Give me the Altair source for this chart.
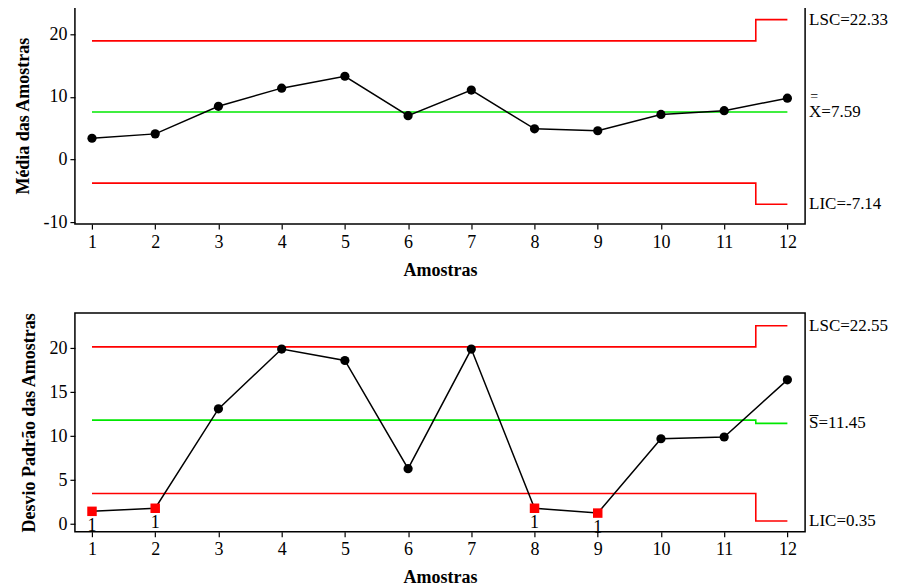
import altair as alt
import pandas as pd

samples = [1, 2, 3, 4, 5, 6, 7, 8, 9, 10, 11, 12]

# X-bar chart
xbar = [3.4, 4.1, 8.5, 11.4, 13.3, 7.0, 11.1, 4.9, 4.6, 7.2, 7.8, 9.8]
xbar_lsc = [18.94, 18.94, 18.94, 18.94, 18.94, 18.94, 18.94, 18.94, 18.94, 18.94, 18.94, 22.33]
xbar_lc = [7.59, 7.59, 7.59, 7.59, 7.59, 7.59, 7.59, 7.59, 7.59, 7.59, 7.59, 7.59]
xbar_lic = [-3.76, -3.76, -3.76, -3.76, -3.76, -3.76, -3.76, -3.76, -3.76, -3.76, -3.76, -7.14]
xbar_flag = [0, 0, 0, 0, 0, 0, 0, 0, 0, 0, 0, 0]

# S chart
sdev = [1.45, 1.8, 13.1, 19.9, 18.6, 6.3, 19.9, 1.8, 1.25, 9.7, 9.9, 16.4]
s_lsc = [20.15, 20.15, 20.15, 20.15, 20.15, 20.15, 20.15, 20.15, 20.15, 20.15, 20.15, 22.55]
s_lc = [11.82, 11.82, 11.82, 11.82, 11.82, 11.82, 11.82, 11.82, 11.82, 11.82, 11.82, 11.45]
s_lic = [3.47, 3.47, 3.47, 3.47, 3.47, 3.47, 3.47, 3.47, 3.47, 3.47, 3.47, 0.35]
s_flag = [1, 1, 0, 0, 0, 0, 0, 1, 1, 0, 0, 0]

xbar_labels = ["LSC=22.33", "X=7.59", "LIC=-7.14"]
s_labels = ["LSC=22.55", "S=11.45", "LIC=0.35"]

W = 731
RED = "#ff0000"
GREEN = "#00e800"


def panel(values, lsc, lc, lic, flags, labels, bar_char, bar_size, bar_dy,
          ydomain, yticks, ytitle, height):
    pts = pd.DataFrame({"amostra": samples, "v": values, "flag": flags})
    lim = pd.concat([
        pd.DataFrame({"amostra": samples, "v": lsc, "serie": "lsc"}),
        pd.DataFrame({"amostra": samples, "v": lc, "serie": "lc"}),
        pd.DataFrame({"amostra": samples, "v": lic, "serie": "lic"}),
    ])
    lab = pd.DataFrame({"v": [lsc[-1], lc[-1], lic[-1]], "txt": labels})
    bar = pd.DataFrame({"v": [lc[-1]], "txt": [bar_char]})

    x = alt.X("amostra:Q",
              scale=alt.Scale(domain=[0.73, 12.28], nice=False, zero=False),
              axis=alt.Axis(values=samples, title="Amostras", labelExpr="'' + datum.value",
                            labelPadding=4, titlePadding=10))
    y = alt.Y("v:Q",
              scale=alt.Scale(domain=ydomain, nice=False, zero=False),
              axis=alt.Axis(values=yticks, title=ytitle, titlePadding=10, labelPadding=3,
                            labelExpr="'' + datum.value"))

    limits = alt.Chart(lim).mark_line(interpolate="step", strokeWidth=1.6).encode(
        x=x, y=y,
        color=alt.Color("serie:N", scale=alt.Scale(domain=["lsc", "lc", "lic"],
                                                   range=[RED, GREEN, RED]), legend=None),
    )
    line = alt.Chart(pts).mark_line(color="black", strokeWidth=1.5).encode(x=x, y=y)
    dots = alt.Chart(pts).transform_filter("datum.flag == 0").mark_circle(
        color="black", size=85, opacity=1).encode(x=x, y=y)
    squares = alt.Chart(pts).transform_filter("datum.flag == 1").mark_square(
        color=RED, size=90, opacity=1).encode(x=x, y=y)
    ones = alt.Chart(pts).transform_filter("datum.flag == 1").mark_text(
        text="1", dy=15, fontSize=18, color="black", baseline="middle").encode(x=x, y=y)
    rlab = alt.Chart(lab).mark_text(align="left", baseline="middle", fontSize=17,
                                    color="black").encode(
        x=alt.value(W + 4), y=y, text="txt:N")
    rbar = alt.Chart(bar).mark_text(align="center", baseline="middle", fontSize=bar_size,
                                    color="black", dy=bar_dy).encode(
        x=alt.value(W + 9), y=y, text="txt:N")
    return alt.layer(limits, line, dots, squares, ones, rlab, rbar).properties(
        width=W, height=height)


top = panel(xbar, xbar_lsc, xbar_lc, xbar_lic, xbar_flag, xbar_labels, "=", 14, -15,
            [-10.3, 24.3], [-10, 0, 10, 20], "Média das Amostras", 217)
bottom = panel(sdev, s_lsc, s_lc, s_lic, s_flag, s_labels, "¯", 17, 0,
               [-0.87, 24.0], [0, 5, 10, 15, 20], "Desvio Padrão das Amostras", 219)

chart = alt.vconcat(top, bottom, spacing=89, bounds="flush").properties(
    padding={"left": 6, "top": -2, "right": 0, "bottom": 0}
).configure(font="Liberation Serif").configure_view(
    stroke="black", strokeWidth=1.5
).configure_axis(
    grid=False, domain=False, tickColor="black", tickSize=5, tickWidth=1.2,
    labelColor="black", labelFontSize=18, labelFont="Liberation Serif",
    titleColor="black", titleFontSize=18, titleFontWeight="bold",
    titleFont="Liberation Serif",
)

chart.save("out.html", embed_options={"renderer": "svg", "actions": False})
